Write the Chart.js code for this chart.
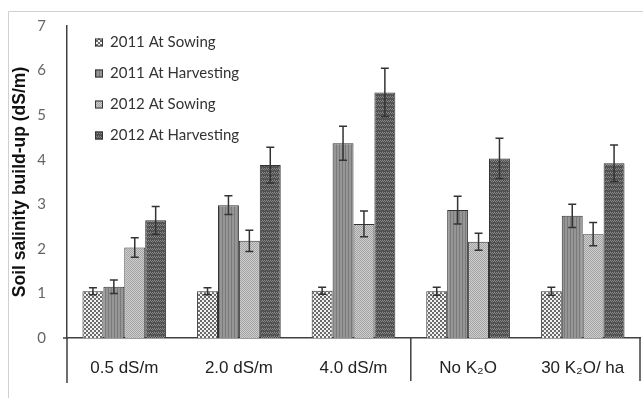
<!DOCTYPE html>
<html>
<head>
<meta charset="utf-8">
<script src="https://cdn.jsdelivr.net/npm/chart.js@4.4.1/dist/chart.umd.min.js"></script>
<style>
  html,body{margin:0;padding:0;background:#fff;}
  #wrap{width:643px;height:398px;position:relative;}
</style>
</head>
<body>
<div id="wrap"><canvas id="salinityChart" width="643" height="398"></canvas></div>
<script>
(function(){
  const categories = ['0.5 dS/m','2.0 dS/m','4.0 dS/m','No K\u2082O','30 K\u2082O/ ha'];
  const seriesNames = ['2011 At Sowing','2011 At Harvesting','2012 At Sowing','2012 At Harvesting'];
  const sow2011 = [1.05,1.05,1.06,1.05,1.05];
  const harv2011 = [1.15,2.98,4.37,2.87,2.74];
  const sow2012 = [2.03,2.18,2.56,2.16,2.33];
  const harv2012 = [2.64,3.88,5.51,4.03,3.92];
  const errSow2011 = [0.08,0.08,0.08,0.09,0.09];
  const errHarv2011 = [0.15,0.21,0.38,0.31,0.26];
  const errSow2012 = [0.22,0.24,0.29,0.19,0.26];
  const errHarv2012 = [0.31,0.40,0.54,0.45,0.41];
  const yTicks = [0,1,2,3,4,5,6,7];

  function makePattern(size, base, dots){
    const c = document.createElement('canvas');
    c.width = size; c.height = size;
    const g = c.getContext('2d');
    g.fillStyle = base; g.fillRect(0,0,size,size);
    dots.forEach(d => { g.fillStyle = d[3]; g.fillRect(d[0], d[1], d[2], d[2]); });
    return g.createPattern(c, 'repeat');
  }
  const ctx = document.getElementById('salinityChart').getContext('2d');
  const patterns = [
    makePattern(4,'#f2f2f2',[[0,0,2,'#6a6a6a'],[2,2,2,'#6a6a6a']]),
    (function(){
      const c = document.createElement('canvas'); c.width = 3; c.height = 3;
      const g = c.getContext('2d');
      g.fillStyle = '#969696'; g.fillRect(0,0,3,3);
      g.fillStyle = '#7a7a7a'; g.fillRect(0,0,1,3);
      return g.createPattern(c,'repeat');
    })(),
    makePattern(2,'#cfcfcf',[[0,0,1,'#a2a2a2'],[1,1,1,'#a2a2a2']]),
    makePattern(4,'#4e4e4e',[[0,0,1,'#8a8a8a'],[1,1,1,'#8a8a8a'],[2,0,1,'#8a8a8a'],[3,1,1,'#8a8a8a'],[0,2,1,'#6a6a6a'],[2,3,1,'#6a6a6a']])
  ];
  const values = [sow2011, harv2011, sow2012, harv2012];
  const errors = [errSow2011, errHarv2011, errSow2012, errHarv2012];

  const decor = {
    id:'decor',
    beforeDraw(chart){
      const c = chart.ctx;
      c.save();
      c.strokeStyle = '#d0d0d0'; c.lineWidth = 1;
      c.beginPath(); c.moveTo(8.5, 398); c.lineTo(8.5, 11.5); c.lineTo(643, 11.5); c.stroke();
      c.restore();
    },
    afterDraw(chart){
      const c = chart.ctx, a = chart.chartArea, x = chart.scales.x;
      const bottom = 381;
      c.save();
      c.strokeStyle = '#404040'; c.lineWidth = 1.5;
      c.beginPath();
      c.moveTo(a.left, a.bottom); c.lineTo(a.left, bottom + 2);
      const sep = (x.getPixelForValue(2) + x.getPixelForValue(3)) / 2;
      c.moveTo(sep, a.bottom); c.lineTo(sep, bottom);
      c.moveTo(a.right, a.bottom); c.lineTo(a.right, bottom);
      c.moveTo(a.left - 4, a.bottom); c.lineTo(a.left, a.bottom);
      c.stroke();

      // legend
      c.font = '15px Lato';
      c.textBaseline = 'middle';
      chart.data.datasets.forEach((ds, i) => {
        const y = 42 + i * 31;
        c.fillStyle = ds.backgroundColor;
        c.fillRect(95, y - 3.5, 8, 8);
        c.strokeStyle = '#333'; c.lineWidth = 1;
        c.strokeRect(95.5, y - 3, 7, 7);
        c.fillStyle = '#333';
        c.fillText(ds.label, 110, y + 0.5);
      });
      c.restore();
    },
    afterDatasetsDraw(chart){
      const c = chart.ctx, y = chart.scales.y;
      c.save();
      c.strokeStyle = '#333'; c.lineWidth = 1.5;
      chart.data.datasets.forEach((ds, i) => {
        chart.getDatasetMeta(i).data.forEach((bar, j) => {
          const v = ds.data[j], e = errors[i][j];
          const top = y.getPixelForValue(v + e), bot = y.getPixelForValue(v - e);
          c.beginPath();
          c.moveTo(bar.x, top); c.lineTo(bar.x, bot);
          c.moveTo(bar.x - 4, top); c.lineTo(bar.x + 4, top);
          c.moveTo(bar.x - 4, bot); c.lineTo(bar.x + 4, bot);
          c.stroke();
        });
      });
      c.restore();
    }
  };

  new Chart(ctx, {
    type:'bar',
    data:{
      labels: categories,
      datasets: seriesNames.map((name, i) => ({
        label: name,
        data: values[i],
        backgroundColor: patterns[i],
        borderColor: '#333',
        borderWidth: 1
      }))
    },
    options:{
      responsive:false,
      animation:false,
      layout:{ padding:{ left:0, right:3, top:26, bottom:0 } },
      plugins:{ legend:{ display:false }, tooltip:{ enabled:false } },
      datasets:{ bar:{ categoryPercentage:0.73, barPercentage:1 } },
      scales:{
        x:{
          grid:{ display:false },
          border:{ display:true, color:'#404040', width:1.5 },
          ticks:{ font:{ family:'Liberation Sans', size:17 }, color:'#222', padding:12, maxRotation:0 },
          afterFit(s){ s.height = 60; }
        },
        y:{
          min:0, max:7,
          afterBuildTicks(s){ s.ticks = yTicks.map(v => ({ value:v })); },
          grid:{ display:false },
          border:{ display:true, color:'#404040', width:1.5 },
          ticks:{ font:{ family:'Lato', size:15 }, color:'#666', padding:13 },
          title:{ display:true, text:'Soil salinity build-up (dS/m)', font:{ family:'Liberation Sans', size:17.5, weight:'bold' }, color:'#111', padding:{ top:10, bottom:0 } },
          afterFit(s){ s.width = 67; }
        }
      }
    },
    plugins:[decor]
  });
})();
</script>
</body>
</html>
